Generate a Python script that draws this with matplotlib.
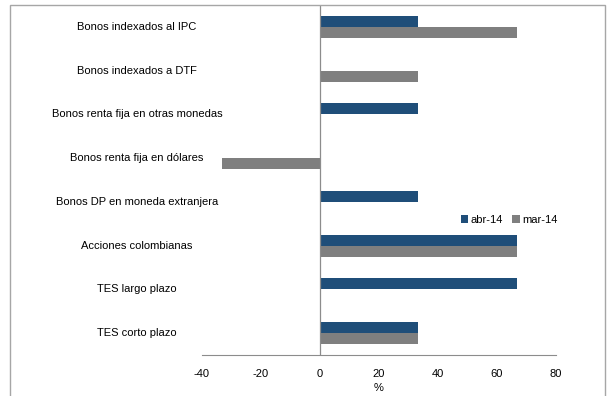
import matplotlib.pyplot as plt
from matplotlib.patches import Rectangle
from matplotlib.transforms import blended_transform_factory
import numpy as np

# categories listed bottom to top
categories = ["TES corto plazo", "TES largo plazo", "Acciones colombianas",
              "Bonos DP en moneda extranjera", "Bonos renta fija en dólares",
              "Bonos renta fija en otras monedas", "Bonos indexados a DTF",
              "Bonos indexados al IPC"]
abr_14 = [33.3, 66.7, 66.7, 33.3, 0, 33.3, 0, 33.3]
mar_14 = [33.3, 0, 66.7, 0, -33.3, 0, 33.3, 66.7]
series_names = ["abr-14", "mar-14"]
xticks = [-40, -20, 0, 20, 40, 60, 80]

plt.rcParams['font.family'] = ['Liberation Sans Narrow', 'Liberation Sans', 'DejaVu Sans']
blue = "#1f4e79"
gray = "#7f7f7f"
axis_gray = "#8c8c8c"
fs = 8

W, H = 607, 396
fig = plt.figure(figsize=(W / 100, H / 100), dpi=100)
ax = fig.add_axes([202 / W, (H - 355) / H, (556 - 202) / W, (355 - 5) / H])

y = np.arange(len(categories))
bh = 0.25
ax.barh(y + bh / 2, abr_14, height=bh, color=blue, label=series_names[0])
ax.barh(y - bh / 2, mar_14, height=bh, color=gray, label=series_names[1])

ax.set_xlim(-40, 80)
ax.set_ylim(-0.5, len(categories) - 0.5)
ax.set_xticks(xticks)
ax.set_xticklabels([str(t) for t in xticks], fontsize=fs)
ax.tick_params(axis='x', length=0, pad=10)
ax.set_yticks([])
ax.set_xlabel("%", fontsize=fs, labelpad=3)
for s in ["left", "right", "top"]:
    ax.spines[s].set_visible(False)
ax.spines["bottom"].set_color(axis_gray)
ax.axvline(0, color=axis_gray, lw=0.9)

# category labels centred at a fixed x position
tr = blended_transform_factory(fig.transFigure, ax.transData)
for yi, cat in zip(y, categories):
    ax.text(137 / W, yi, cat, transform=tr, ha="center", va="center", fontsize=fs)

fig.legend(loc="center", bbox_to_anchor=(509 / W, 1 - 220 / H), ncol=2, frameon=False,
           fontsize=fs, handlelength=0.7, handleheight=0.7, handletextpad=0.2,
           columnspacing=0.8)

# outer frame
fig.patches.append(Rectangle((10 / W, -0.05), (605 - 10) / W, 1.05 - 4.5 / H,
                             transform=fig.transFigure, fill=False,
                             edgecolor="#a6a6a6", lw=1))

fig.savefig("out.png", dpi=100)
